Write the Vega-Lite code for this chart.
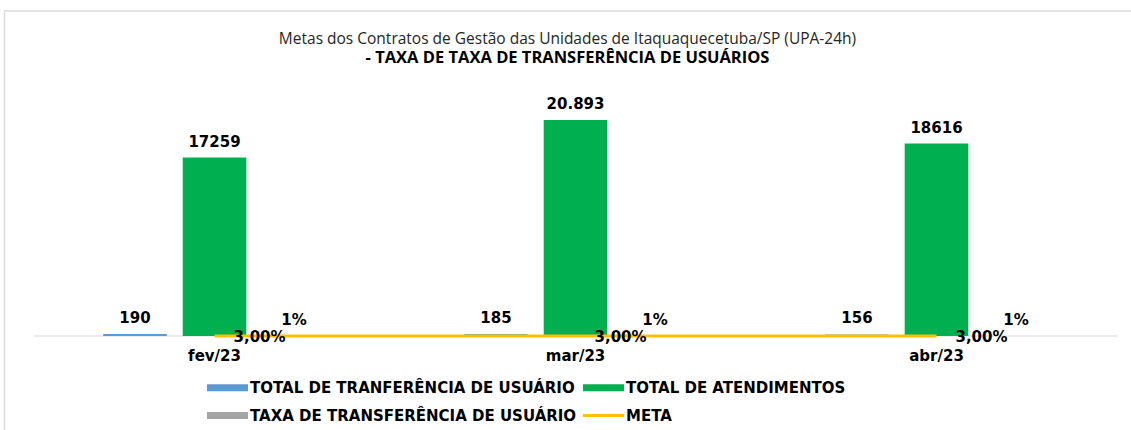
{
  "$schema": "https://vega.github.io/schema/vega-lite/v6.json",
  "autosize": {"type": "none"},
  "width": 1127,
  "height": 419,
  "padding": {"left": 4, "top": 11, "right": 0, "bottom": 0},
  "background": "white",
  "title": {
    "text": "Metas dos Contratos de Gestão das Unidades de Itaquaquecetuba/SP (UPA-24h)",
    "subtitle": "- TAXA DE TAXA DE TRANSFERÊNCIA DE USUÁRIOS",
    "anchor": "middle",
    "frame": "group",
    "offset": -56,
    "font": "Open Sans",
    "fontSize": 15.5,
    "fontWeight": "normal",
    "color": "#262626",
    "subtitleFont": "Open Sans",
    "subtitleFontSize": 16.5,
    "subtitleFontWeight": "bold",
    "subtitleColor": "#000000",
    "subtitlePadding": 2
  },
  "data": {
    "values": [
      {"mes": "fev/23", "serie": "TOTAL DE TRANFERÊNCIA DE USUÁRIO", "valor": 190, "rotulo": "190"},
      {"mes": "fev/23", "serie": "TOTAL DE ATENDIMENTOS", "valor": 17259, "rotulo": "17259"},
      {"mes": "fev/23", "serie": "TAXA DE TRANSFERÊNCIA DE USUÁRIO", "valor": 0.011, "rotulo": "1%"},
      {"mes": "fev/23", "serie": "META", "valor": 0.03, "rotulo": "3,00%"},
      {"mes": "mar/23", "serie": "TOTAL DE TRANFERÊNCIA DE USUÁRIO", "valor": 185, "rotulo": "185"},
      {"mes": "mar/23", "serie": "TOTAL DE ATENDIMENTOS", "valor": 20893, "rotulo": "20.893"},
      {"mes": "mar/23", "serie": "TAXA DE TRANSFERÊNCIA DE USUÁRIO", "valor": 0.009, "rotulo": "1%"},
      {"mes": "mar/23", "serie": "META", "valor": 0.03, "rotulo": "3,00%"},
      {"mes": "abr/23", "serie": "TOTAL DE TRANFERÊNCIA DE USUÁRIO", "valor": 156, "rotulo": "156"},
      {"mes": "abr/23", "serie": "TOTAL DE ATENDIMENTOS", "valor": 18616, "rotulo": "18616"},
      {"mes": "abr/23", "serie": "TAXA DE TRANSFERÊNCIA DE USUÁRIO", "valor": 0.008, "rotulo": "1%"},
      {"mes": "abr/23", "serie": "META", "valor": 0.03, "rotulo": "3,00%"}
    ]
  },
  "layer": [
    {
      "data": {"values": [{"borda": 1}]},
      "mark": {"type": "rule", "color": "#d9d9d9", "strokeWidth": 1.5},
      "encoding": {
        "y": {"datum": 31436, "type": "quantitative", "scale": {"domain": [-9092, 31436], "nice": false, "zero": false}, "title": null}
      }
    },
    {
      "data": {"values": [{"base": 1}]},
      "mark": {"type": "rule", "color": "#d9d9d9", "strokeWidth": 1},
      "encoding": {
        "x": {"datum": "fev/23", "type": "nominal", "bandPosition": 0, "scale": {"align": 0.682, "paddingInner": 0, "paddingOuter": 0.061}},
        "x2": {"datum": "abr/23", "bandPosition": 1},
        "y": {"datum": 0, "type": "quantitative", "title": null}
      }
    },
    {
      "transform": [{"filter": "datum.serie !== 'META'"}],
      "mark": {"type": "bar"},
      "encoding": {
        "x": {"field": "mes", "type": "nominal", "sort": ["fev/23", "mar/23", "abr/23"], "scale": {"align": 0.682, "paddingInner": 0, "paddingOuter": 0.061}},
        "xOffset": {"field": "serie", "type": "nominal", "sort": ["TOTAL DE TRANFERÊNCIA DE USUÁRIO", "TOTAL DE ATENDIMENTOS", "TAXA DE TRANSFERÊNCIA DE USUÁRIO"], "scale": {"paddingInner": 0.2, "paddingOuter": 0.87}},
        "y": {"field": "valor", "type": "quantitative", "title": null},
        "y2": {"datum": 0},
        "color": {
          "field": "serie",
          "type": "nominal",
          "scale": {
            "domain": ["TOTAL DE TRANFERÊNCIA DE USUÁRIO", "TOTAL DE ATENDIMENTOS", "TAXA DE TRANSFERÊNCIA DE USUÁRIO", "META"],
            "range": ["#5B9BD5", "#00B050", "#A5A5A5", "#FFC000"]
          },
          "legend": {
            "orient": "none",
            "legendX": 216,
            "legendY": 369,
            "direction": "horizontal",
            "columns": 2,
            "title": null,
            "padding": 0,
            "labelFont": "DejaVu Sans",
            "labelFontWeight": "bold",
            "labelFontSize": 15,
            "labelColor": "#000000",
            "labelLimit": 600,
            "labelOffset": 15,
            "symbolSize": 1681,
            "columnPadding": 0,
            "rowPadding": 12,
            "encode": {
              "symbols": {
                "update": {
                  "shape": {"signal": "datum.value === 'META' ? 'stroke' : 'M-1,-0.17H1V0.17H-1Z'"},
                  "fill": {"signal": "datum.value === 'META' ? 'transparent' : scale('color', datum.value)"},
                  "stroke": {"signal": "scale('color', datum.value)"},
                  "strokeWidth": {"signal": "datum.value === 'META' ? 3 : 0"},
                  "opacity": {"value": 1},
                  "fillOpacity": {"value": 1}
                }
              }
            }
          }
        }
      }
    },
    {
      "transform": [{"filter": "datum.serie !== 'META'"}],
      "mark": {"type": "text", "baseline": "alphabetic", "dy": -11, "font": "DejaVu Sans", "fontWeight": "bold", "fontSize": 15, "color": "#000000"},
      "encoding": {
        "x": {"field": "mes", "type": "nominal", "sort": ["fev/23", "mar/23", "abr/23"]},
        "xOffset": {"field": "serie", "type": "nominal", "sort": ["TOTAL DE TRANFERÊNCIA DE USUÁRIO", "TOTAL DE ATENDIMENTOS", "TAXA DE TRANSFERÊNCIA DE USUÁRIO"]},
        "y": {"field": "valor", "type": "quantitative", "title": null},
        "text": {"field": "rotulo"}
      }
    },
    {
      "transform": [{"filter": "datum.serie === 'META'"}],
      "mark": {"type": "line", "strokeWidth": 3},
      "encoding": {
        "x": {"field": "mes", "type": "nominal", "sort": ["fev/23", "mar/23", "abr/23"]},
        "y": {"field": "valor", "type": "quantitative", "title": null},
        "color": {"field": "serie", "type": "nominal"}
      }
    },
    {
      "transform": [{"filter": "datum.serie === 'META'"}],
      "mark": {"type": "text", "baseline": "alphabetic", "dx": 45, "dy": 6, "font": "DejaVu Sans", "fontWeight": "bold", "fontSize": 15, "color": "#000000"},
      "encoding": {
        "x": {"field": "mes", "type": "nominal", "sort": ["fev/23", "mar/23", "abr/23"]},
        "y": {"field": "valor", "type": "quantitative", "title": null},
        "text": {"field": "rotulo"}
      }
    }
  ],
  "resolve": {"scale": {"x": "shared", "y": "shared"}},
  "config": {
    "view": {"stroke": null},
    "axisX": {
      "orient": "bottom",
      "offset": -94,
      "domain": false,
      "ticks": false,
      "labelPadding": 12,
      "labelAngle": 0,
      "labelFont": "DejaVu Sans",
      "labelFontWeight": "bold",
      "labelFontSize": 15,
      "labelColor": "#000000",
      "title": null
    },
    "axisY": {
      "domain": true,
      "domainColor": "#d9d9d9",
      "domainWidth": 1.5,
      "labels": false,
      "ticks": false,
      "grid": false
    }
  }
}
